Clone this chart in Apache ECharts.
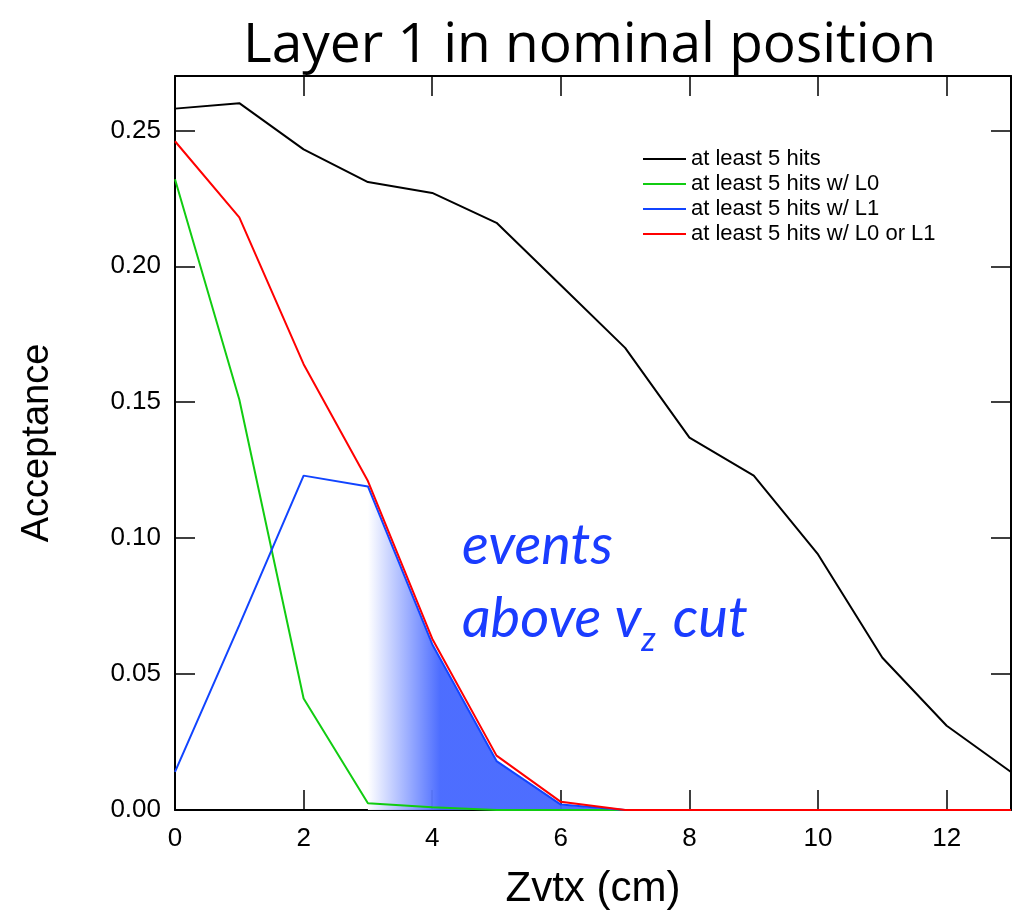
<!DOCTYPE html>
<html>
<head>
<meta charset="utf-8">
<script src="https://cdn.jsdelivr.net/npm/echarts@6/dist/echarts.min.js"></script>
<style>
  html, body { margin: 0; padding: 0; background: #fff; }
  #chart { width: 1015px; height: 912px; }
</style>
</head>
<body>
<div id="chart"></div>
<script>
// Zvtx positions (cm)
const zvtx = [0, 1, 2, 3, 4, 5, 6, 7, 8, 9, 10, 11, 12, 13]

// acceptance per series
const hits5 = [0.258, 0.260, 0.243, 0.231, 0.227, 0.216, 0.193, 0.170, 0.137, 0.123, 0.094, 0.056, 0.031, 0.014]
const hits5L0 = [0.232, 0.151, 0.041, 0.0025, 0.001, 0, 0, 0, 0, 0, 0, 0, 0, 0]
const hits5L1 = [0.014, 0.068, 0.123, 0.119, 0.061, 0.018, 0.002, 0, 0, 0, 0, 0, 0, 0]
const hits5L0orL1 = [0.246, 0.218, 0.164, 0.121, 0.063, 0.020, 0.003, 0, 0, 0, 0, 0, 0, 0]

// shaded region "above vz cut" starts at this zvtx
const cutFrom = 3

const names = ['at least 5 hits', 'at least 5 hits w/ L0', 'at least 5 hits w/ L1', 'at least 5 hits w/ L0 or L1']

const pairs = function (ys) {
  return zvtx.map((x, i) => [x, ys[i]])
}

const lineSeries = function (name, ys, color, z) {
  return {
    name: name,
    type: 'line',
    data: pairs(ys),
    symbol: 'none',
    z: z,
    lineStyle: { color: color, width: 2 },
    itemStyle: { color: color }
  }
}

const shaded = pairs(hits5L1).filter(p => p[0] >= cutFrom && p[0] <= 7)

const tickCommon = { show: true, inside: true, length: 20, lineStyle: { color: '#000', width: 1.5 } }
const lineCommon = { show: true, onZero: false, lineStyle: { color: '#000', width: 2 } }

let myChart = echarts.init(document.getElementById('chart'))
let option = {
  animation: false,
  backgroundColor: '#fff',
  title: {
    text: 'Layer 1 in nominal position',
    left: 238,
    top: 14,
    textStyle: { fontFamily: 'Open Sans', fontWeight: 'normal', fontSize: 55, color: '#000' }
  },
  legend: {
    data: names,
    orient: 'vertical',
    left: 638,
    top: 143,
    icon: 'rect',
    itemWidth: 43,
    itemHeight: 2,
    itemGap: 3,
    textStyle: { fontFamily: 'Liberation Sans', fontSize: 22, lineHeight: 21, color: '#000' }
  },
  grid: { left: 175, right: 4, top: 76, bottom: 102, containLabel: false, outerBoundsMode: 'none' },
  xAxis: [{
    type: 'value',
    min: 0,
    max: 13,
    interval: 2,
    name: 'Zvtx (cm)',
    nameLocation: 'middle',
    nameGap: 58,
    nameTextStyle: { fontFamily: 'Liberation Sans', fontSize: 42, color: '#000' },
    axisLine: lineCommon,
    axisTick: tickCommon,
    axisLabel: { showMaxLabel: false, margin: 16, fontFamily: 'Liberation Sans', fontSize: 26, color: '#000' },
    splitLine: { show: false }
  }, {
    type: 'value',
    position: 'top',
    min: 0,
    max: 13,
    interval: 2,
    axisLine: lineCommon,
    axisTick: tickCommon,
    axisLabel: { show: false },
    splitLine: { show: false }
  }],
  yAxis: [{
    type: 'value',
    min: 0,
    max: 0.27,
    interval: 0.05,
    name: 'Acceptance',
    nameLocation: 'middle',
    nameGap: 118,
    nameTextStyle: { fontFamily: 'Liberation Sans', fontSize: 38, color: '#000' },
    axisLine: lineCommon,
    axisTick: tickCommon,
    axisLabel: {
      showMaxLabel: false,
      margin: 14,
      fontFamily: 'Liberation Sans',
      fontSize: 26,
      color: '#000',
      formatter: v => v.toFixed(2)
    },
    splitLine: { show: false }
  }, {
    type: 'value',
    position: 'right',
    min: 0,
    max: 0.27,
    interval: 0.05,
    axisLine: lineCommon,
    axisTick: tickCommon,
    axisLabel: { show: false },
    splitLine: { show: false }
  }],
  series: [
    lineSeries(names[0], hits5, '#000000', 3),
    lineSeries(names[1], hits5L0, '#11cc11', 2),
    {
      name: 'shade',
      type: 'line',
      data: shaded,
      symbol: 'none',
      z: 2,
      lineStyle: { width: 1, color: '#ffffff' },
      areaStyle: {
        opacity: 0.95,
        color: new echarts.graphic.LinearGradient(0, 0, 1, 0, [
          { offset: 0, color: '#ffffff' },
          { offset: 0.28, color: '#4466ff' },
          { offset: 1, color: '#4466ff' }
        ])
      }
    },
    lineSeries(names[2], hits5L1, '#1144ff', 3),
    lineSeries(names[3], hits5L0orL1, '#ff0000', 4)
  ],
  graphic: [{
    type: 'text',
    left: 462,
    top: 518,
    style: {
      text: 'events',
      font: 'italic 56px Lato',
      fill: '#1a3cff'
    }
  }, {
    type: 'text',
    left: 462,
    top: 591,
    style: {
      text: '{a|above v}{s|z}{a| cut}',
      rich: {
        a: { font: 'italic 56px Lato', fill: '#1a3cff', verticalAlign: 'bottom' },
        s: { font: 'italic 34px Lato', fill: '#1a3cff', verticalAlign: 'bottom', padding: [0, 4, -10, 0] }
      }
    }
  }]
}
myChart.setOption(option)
</script>
</body>
</html>
